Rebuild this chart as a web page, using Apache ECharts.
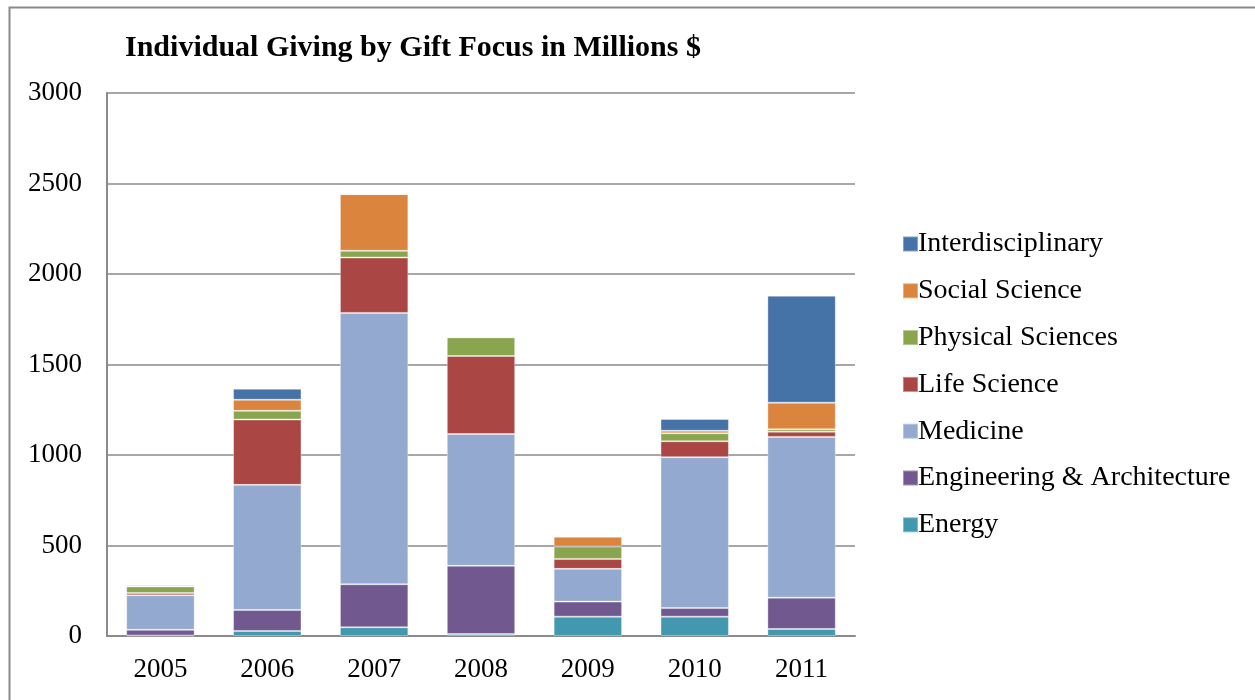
<!DOCTYPE html>
<html>
<head>
<meta charset="utf-8">
<script src="https://cdn.jsdelivr.net/npm/echarts@6/dist/echarts.min.js"></script>
<style>html,body{margin:0;padding:0;background:#fff;}#c{width:1255px;height:700px;}</style>
</head>
<body>
<div id="c"></div>
<script>
const years = ['2005','2006','2007','2008','2009','2010','2011'];
const energy        = [3, 28, 48, 11, 107, 107, 39];
const engineering   = [31, 116, 238, 377, 83, 48, 173];
const medicine      = [191, 691, 1499, 728, 181, 833, 888];
const lifeScience   = [13, 361, 306, 431, 55, 88, 29];
const physical      = [36, 48, 37, 103, 68, 44, 13];
const socialScience = [8, 61, 313, 0, 55, 14, 147];
const interdisc     = [0, 61, 0, 0, 0, 65, 591];
const yTicks = [0, 500, 1000, 1500, 2000, 2500, 3000];

const seriesDefs = [
  ['Energy', energy, '#4198AF'],
  ['Engineering & Architecture', engineering, '#71588F'],
  ['Medicine', medicine, '#93A9CF'],
  ['Life Science', lifeScience, '#AA4643'],
  ['Physical Sciences', physical, '#89A54E'],
  ['Social Science', socialScience, '#DB843D'],
  ['Interdisciplinary', interdisc, '#4572A7']
];
const FONT = '"Liberation Serif", serif';
const chart = echarts.init(document.getElementById('c'), null, {renderer: 'canvas'});
chart.setOption({
  animation: false,
  backgroundColor: '#fff',
  title: {
    text: 'Individual Giving by Gift Focus in Millions $',
    left: 120, top: 28,
    textStyle: {fontFamily: FONT, fontWeight: 'bold', fontSize: 30, color: '#000'}
  },
  graphic: [{
    type: 'rect', left: 7, top: 5, z: -1,
    shape: {width: 1300, height: 760},
    style: {fill: 'none', stroke: '#8a8a8a', lineWidth: 2}
  }],
  legend: {
    data: seriesDefs.map(d => d[0]).slice().reverse(),
    orient: 'vertical',
    left: 897, top: 225,
    itemWidth: 15, itemHeight: 15, itemGap: 18.8,
    icon: 'rect',
    textStyle: {fontFamily: FONT, fontSize: 28, color: '#000', lineHeight: 28, padding: [0,0,0,-5]}
  },
  grid: {left: 107, right: 400, top: 93, bottom: 64},
  xAxis: {
    type: 'category', data: years,
    axisLine: {lineStyle: {color: '#8a8a8a', width: 2}},
    axisTick: {show: false},
    axisLabel: {fontFamily: FONT, fontSize: 27, color: '#000', margin: 20}
  },
  yAxis: {
    type: 'value', min: 0, max: 3000, interval: 500,
    axisLine: {show: true, lineStyle: {color: '#8a8a8a', width: 2}},
    axisTick: {show: false},
    splitLine: {lineStyle: {color: '#8a8a8a', width: 1.5}},
    axisLabel: {fontFamily: FONT, fontSize: 27, color: '#000', margin: 25,
      formatter: v => yTicks.includes(v) ? String(v) : ''}
  },
  series: seriesDefs.map(d => ({
    name: d[0], type: 'bar', stack: 'total', data: d[1],
    barWidth: '64%',
    itemStyle: {color: d[2], borderColor: 'rgba(255,255,255,0.35)', borderWidth: 1}
  }))
});
</script>
</body>
</html>
